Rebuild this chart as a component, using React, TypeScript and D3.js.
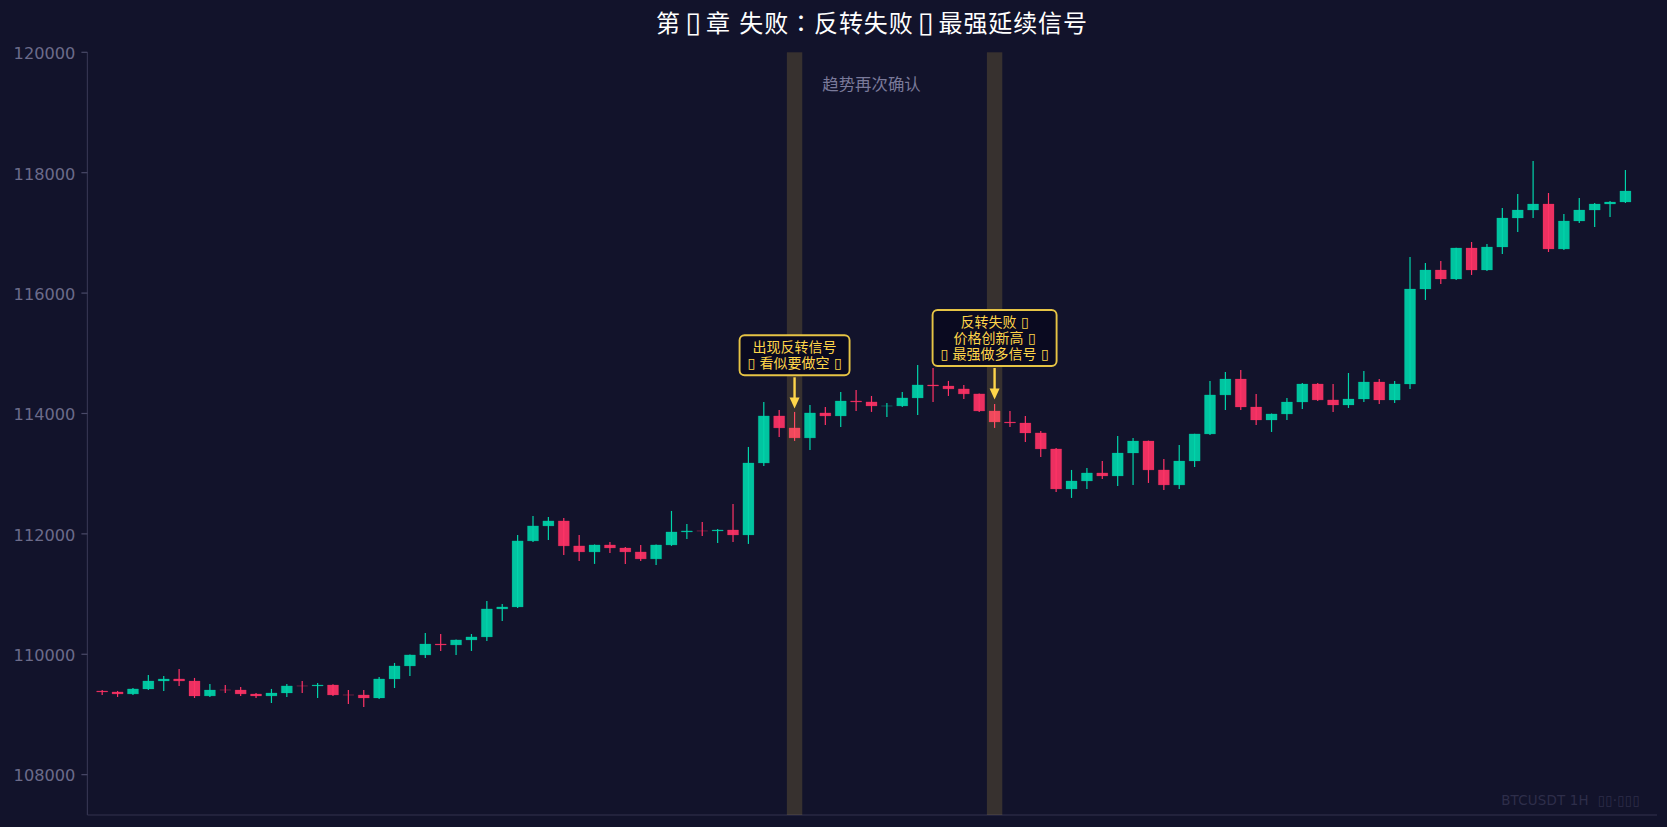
import React from 'react';
import * as d3 from 'd3';

const WIDTH = 1667;
const HEIGHT = 827;
const FONT = '"DejaVu Sans", "Noto Sans CJK SC", sans-serif';

const BG = '#12132b';
const UP = '#00d4aa';
const DOWN = '#ff3366';
const GOLD = '#ffd54a';

// BTCUSDT 1H
const opens = [
  109390, 109374, 109341, 109424, 109557, 109590, 109557, 109308, 109407, 109407,
  109341, 109308, 109357, 109474, 109474, 109490, 109324, 109324, 109274, 109590,
  109806, 109989, 110171, 110155, 110238, 110288, 110753, 110786, 111883, 112132,
  112215, 111800, 111700, 111816, 111766, 111700, 111584, 111816, 112032, 112049,
  112049, 112065, 111982, 113178, 113959, 113760, 113594, 114009, 113959, 114208,
  114192, 114125, 114125, 114258, 114474, 114457, 114408, 114325, 114042, 113859,
  113843, 113677, 113411, 112746, 112879, 113012, 112962, 113344, 113543, 113062,
  112813, 113211, 113660, 114308, 114573, 114108, 113892, 113992, 114191, 114490,
  114225, 114141, 114241, 114523, 114224, 114490, 116068, 116384, 116234, 116749,
  116384, 116766, 117247, 117380, 117480, 116733, 117198, 117380, 117480, 117513,
];
const highs = [
  109407, 109391, 109440, 109656, 109640, 109756, 109607, 109507, 109490, 109457,
  109357, 109424, 109507, 109557, 109523, 109500, 109407, 109407, 109623, 109856,
  109995, 110354, 110337, 110245, 110337, 110886, 110836, 111982, 112298, 112281,
  112265, 111982, 111825, 111866, 111783, 111816, 111825, 112381, 112165, 112198,
  112082, 112497, 113444, 114192, 114059, 114026, 114142, 114109, 114358, 114391,
  114291, 114175, 114358, 114806, 114756, 114541, 114474, 114330, 114158, 114042,
  113959, 113710, 113427, 113062, 113095, 113211, 113627, 113593, 113550, 113245,
  113477, 113665, 114540, 114690, 114723, 114324, 114000, 114258, 114507, 114507,
  114490, 114673, 114706, 114573, 114540, 116600, 116500, 116533, 116755, 116849,
  116816, 117414, 117646, 118194, 117663, 117314, 117580, 117497, 117530, 118045,
];
const lows = [
  109324, 109291, 109324, 109407, 109391, 109474, 109274, 109291, 109357, 109308,
  109274, 109191, 109291, 109357, 109274, 109308, 109175, 109125, 109258, 109440,
  109640, 109939, 110055, 109989, 110055, 110222, 110554, 110770, 111866, 111899,
  111650, 111551, 111501, 111683, 111501, 111551, 111484, 111800, 111916, 111966,
  111849, 111866, 111833, 113129, 113610, 113544, 113394, 113810, 113776, 114042,
  114026, 113942, 114109, 113976, 114192, 114291, 114242, 114026, 113760, 113776,
  113527, 113278, 112696, 112597, 112746, 112912, 112796, 112813, 112846, 112730,
  112746, 113112, 113643, 114058, 114058, 113809, 113693, 113892, 114075, 114208,
  114025, 114092, 114191, 114158, 114175, 114407, 115886, 116151, 116218, 116301,
  116367, 116649, 117015, 117247, 116683, 116716, 117164, 117098, 117264, 117497,
];
const closes = [
  109374, 109341, 109424, 109557, 109590, 109557, 109308, 109407, 109407, 109341,
  109308, 109357, 109474, 109474, 109490, 109324, 109324, 109274, 109590, 109806,
  109989, 110171, 110155, 110238, 110288, 110753, 110786, 111883, 112132, 112215,
  111800, 111700, 111816, 111766, 111700, 111584, 111816, 112032, 112049, 112049,
  112065, 111982, 113178, 113959, 113760, 113594, 114009, 113959, 114208, 114192,
  114125, 114125, 114258, 114474, 114457, 114408, 114325, 114042, 113859, 113843,
  113677, 113411, 112746, 112879, 113012, 112962, 113344, 113543, 113062, 112813,
  113211, 113660, 114308, 114573, 114108, 113892, 113992, 114191, 114490, 114225,
  114141, 114241, 114523, 114224, 114490, 116068, 116384, 116234, 116749, 116384,
  116766, 117247, 117380, 117480, 116733, 117198, 117380, 117480, 117513, 117696,
];
// flat candles are red except this one
const greenFlat = [51];

const highlighted = [45, 58];
const titleParts = ['第', ' ', '▯', ' ', '章 失败', '：', '反转失败', ' ', '▯', ' ', '最强延续信号'];
const bandLabel = '趋势再次确认';
const watermark = 'BTCUSDT 1H  ▯▯·▯▯▯';
const note1 = ['出现反转信号', '▯ 看似要做空 ▯'];
const note2 = ['反转失败 ▯', '价格创新高 ▯', '▯ 最强做多信号 ▯'];

const x = d3.scaleLinear().domain([-1, 101]).range([86.8, 1656.2]);
const y = d3.scaleLinear().domain([107330, 120000]).range([815, 52.3]);
const BODY = 0.72 * (x(1) - x(0));
const AXIS_X = 87.4;
const AXIS_END = 1657;

function bodyPath(i: number) {
  const top = y(Math.max(opens[i], closes[i]));
  const bottom = y(Math.min(opens[i], closes[i]));
  const p = d3.path();
  p.rect(x(i) - BODY / 2, top, BODY, bottom - top);
  return p.toString();
}

function candleColor(i: number) {
  if (closes[i] === opens[i]) return greenFlat.includes(i) ? UP : DOWN;
  return closes[i] > opens[i] ? UP : DOWN;
}

function Callout(props: { index: number; lines: string[]; boxWidth: number; bottom: number; tip: number }) {
  const { index, lines, boxWidth, bottom, tip } = props;
  const cx = x(index);
  const lineH = 16;
  const boxH = lines.length * lineH + 8;
  const head = d3.path();
  head.moveTo(cx - 5, tip - 11);
  head.lineTo(cx, tip);
  head.lineTo(cx + 5, tip - 11);
  head.closePath();
  return (
    <g>
      <line x1={cx} x2={cx} y1={bottom + 2} y2={tip - 8} stroke={GOLD} strokeWidth={2.4} />
      <path d={head.toString()} fill={GOLD} />
      <rect
        x={cx - boxWidth / 2}
        y={bottom - boxH}
        width={boxWidth}
        height={boxH}
        rx={5}
        fill="#0a0a20"
        stroke="#e6c445"
        strokeWidth={1.9}
      />
      {lines.map((d, i) => (
        <text
          key={i}
          x={cx}
          y={bottom - boxH + 4 + lineH * i + lineH / 2}
          dy="0.36em"
          textAnchor="middle"
          fontSize={14}
          fill={GOLD}
        >
          {d}
        </text>
      ))}
    </g>
  );
}

export default function App() {
  const candles = opens.map((o, i) => {
    const c = candleColor(i);
    return (
      <g key={i}>
        <line x1={x(i)} x2={x(i)} y1={y(highs[i])} y2={y(lows[i])} stroke={c} strokeWidth={1.2} />
        <path d={bodyPath(i)} fill={c} fillOpacity={0.92} stroke={c} strokeOpacity={0.2} strokeWidth={1} />
      </g>
    );
  });

  return (
    <div>
      <style>{`html,body{margin:0;padding:0;background:${BG};overflow:hidden}`}</style>
      <svg width={WIDTH} height={HEIGHT} style={{ display: 'block', fontFamily: FONT }}>
        <rect width={WIDTH} height={HEIGHT} fill={BG} />
        <text x={872} y={23} dy="0.36em" textAnchor="middle" fontSize={24} letterSpacing={0.9} fill="#ffffff" xmlSpace="preserve">
          {titleParts.map((d, i) => {
            // box glyph drawn larger, with thin spaces around it
            if (d === '▯') return <tspan key={i} fontSize={29} letterSpacing={0}>{d}</tspan>;
            if (d === ' ') return <tspan key={i} fontSize={14} letterSpacing={0}>{d}</tspan>;
            if (d === '：') return <tspan key={i} fontFamily='"Noto Sans CJK TC"'>{d}</tspan>;
            return <tspan key={i}>{d}</tspan>;
          })}
        </text>

        <line x1={AXIS_X} x2={AXIS_X} y1={y.range()[1]} y2={y.range()[0]} stroke="#33334f" strokeWidth={1.2} />
        <line x1={AXIS_X} x2={AXIS_END} y1={y.range()[0]} y2={y.range()[0]} stroke="#33334f" strokeWidth={1.2} />
        {y.ticks(7).map(t => (
          <g key={t}>
            <line x1={AXIS_X - 6} x2={AXIS_X} y1={y(t)} y2={y(t)} stroke="#4a4a68" strokeWidth={1.2} />
            <text x={AXIS_X - 12} y={y(t) + 1} dy="0.36em" textAnchor="end" fontSize={16.2} fill="#6b6b8a">
              {t}
            </text>
          </g>
        ))}

        {candles}

        {highlighted.map(i => (
          <rect
            key={i}
            x={x(i - 0.5)}
            width={x(1) - x(0)}
            y={y.range()[1]}
            height={y.range()[0] - y.range()[1]}
            fill="#ffd545"
            fillOpacity={0.155}
          />
        ))}

        <text x={871.5} y={84} dy="0.36em" textAnchor="middle" fontSize={16.4} fill="#7a7a9a">
          {bandLabel}
        </text>

        <Callout index={45} lines={note1} boxWidth={110} bottom={375.3} tip={408.5} />
        <Callout index={58} lines={note2} boxWidth={124} bottom={366} tip={399.5} />

        <text x={1640} y={800} dy="0.36em" textAnchor="end" fontSize={13.4} letterSpacing={0.2} fill="#2e2e4a" xmlSpace="preserve">
          {watermark}
        </text>
      </svg>
    </div>
  );
}
